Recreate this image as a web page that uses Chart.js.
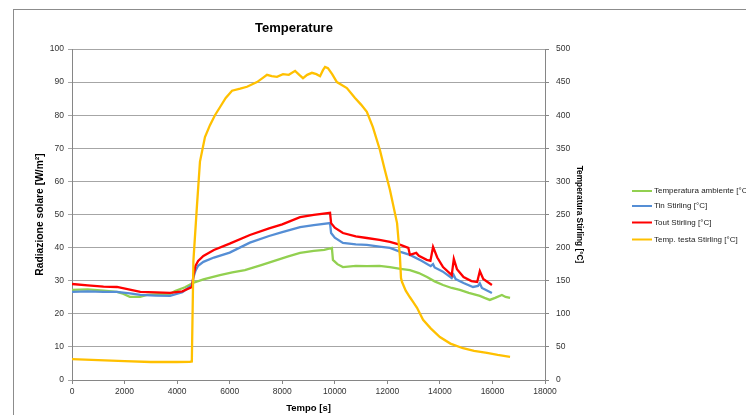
<!DOCTYPE html>
<html>
<head>
<meta charset="utf-8">
<script src="https://cdn.jsdelivr.net/npm/chart.js@4.4.1/dist/chart.umd.min.js"></script>
<style>
  body { margin: 0; background: #fff; }
  #wrap { position: relative; width: 746px; height: 415px; overflow: hidden; }
  #frame { position: absolute; left: 13px; top: 9px; width: 800px; height: 500px;
           border-left: 1px solid #8c8c8c; border-top: 1px solid #8c8c8c; }
  #tempChart { position: absolute; left: 0; top: 0; }
</style>
</head>
<body>
<div id="wrap">
  <div id="frame"></div>
  <canvas id="tempChart" width="746" height="415"></canvas>
</div>
<script>
const CHART_TITLE = "Temperature";
const X_LABEL = "Tempo [s]";
const Y_LABEL = "Radiazione solare [W/m²]";
const Y2_LABEL = "Temperatura Stirling [°C]";

const xTicks = [0, 2000, 4000, 6000, 8000, 10000, 12000, 14000, 16000, 18000];

const labelAmbiente = "Temperatura ambiente [°C]";
const tAmbiente = [0, 600, 1200, 1710, 1900, 2200, 2590, 2850, 3300, 3730, 3920, 4300, 4600, 5000, 5630, 6100, 6580, 7200, 7700, 8200, 8680, 9200, 9600, 9890, 9930, 10100, 10310, 10800, 11220, 11700, 12100, 12500, 12860, 13200, 13510, 13800, 14120, 14450, 14760, 15100, 15520, 15700, 15900, 16100, 16360, 16500, 16670];
const vAmbiente = [27.2, 27.4, 27, 26.6, 26.2, 25.1, 25.1, 25.7, 25.9, 26, 26.9, 28, 29.3, 30.4, 31.7, 32.5, 33.2, 34.7, 36, 37.3, 38.4, 39, 39.3, 39.9, 36.3, 35, 34.1, 34.5, 34.4, 34.5, 34.1, 33.6, 33.2, 32.3, 31.1, 29.8, 28.7, 27.8, 27.2, 26.3, 25.4, 24.8, 24.2, 24.8, 25.7, 25.1, 24.8];

const labelTin = "Tin Stirling [°C]";
const tTin = [0, 600, 1200, 1710, 2200, 2600, 3200, 3730, 4200, 4570, 4620, 4700, 4800, 5000, 5400, 6000, 6770, 7500, 8000, 8680, 9200, 9820, 9860, 10000, 10310, 10800, 11220, 11700, 12100, 12500, 12860, 13300, 13650, 13740, 13800, 14100, 14450, 14520, 14600, 14900, 15260, 15450, 15520, 15600, 15980];
const vTin = [26.6, 26.8, 26.6, 26.6, 26.2, 25.7, 25.5, 25.4, 26.5, 28.7, 31, 33, 34.5, 35.7, 37, 38.5, 41.5, 43.5, 44.7, 46.2, 46.8, 47.4, 44.4, 43, 41.4, 41, 40.8, 40.3, 39.9, 38.7, 37.8, 36, 34.4, 35, 34, 32.8, 30.8, 31.8, 30.5, 29.3, 28.1, 28.4, 29.2, 27.8, 26.3];

const labelTout = "Tout Stirling [°C]";
const tTout = [0, 600, 1200, 1710, 2200, 2600, 3200, 3730, 4200, 4570, 4620, 4700, 4800, 5000, 5400, 6000, 6770, 7500, 8000, 8680, 9200, 9820, 9860, 10000, 10310, 10800, 11220, 11700, 12100, 12500, 12800, 12860, 13100, 13200, 13500, 13640, 13740, 13900, 14120, 14450, 14530, 14650, 14900, 15200, 15420, 15520, 15650, 15980];
const vTout = [29, 28.6, 28.2, 28.1, 27.3, 26.6, 26.5, 26.3, 26.8, 28.1, 31.5, 34.5, 36, 37.5, 39.3, 41.2, 43.8, 45.8, 47, 49.2, 49.9, 50.5, 47.4, 46, 44.4, 43.4, 42.9, 42.3, 41.7, 40.8, 39.9, 37.8, 38.4, 37.5, 36.3, 36, 40.2, 37, 34.1, 31.7, 36.6, 33.5, 31.1, 29.9, 29.6, 32.9, 30.5, 28.7];

const labelTesta = "Temp. testa Stirling [°C]";
const tTesta = [0, 1000, 2000, 3000, 4000, 4480, 4560, 4620, 4750, 4870, 5060, 5250, 5440, 5630, 5850, 6090, 6400, 6660, 7040, 7250, 7420, 7600, 7800, 8030, 8250, 8490, 8650, 8790, 8950, 9130, 9300, 9440, 9550, 9630, 9740, 9900, 10080, 10460, 10770, 11000, 11220, 11450, 11720, 11900, 12100, 12370, 12480, 12520, 12560, 12700, 12860, 12980, 13130, 13360, 13650, 14000, 14400, 14880, 15300, 15790, 16200, 16670];
const vTesta = [31.5, 30, 28.5, 27.2, 27.2, 27.5, 28, 180, 260, 330, 367, 385, 400, 412, 426, 437, 440, 443, 450, 456, 461, 459, 458, 462, 461, 467, 461, 456, 461, 464, 462, 459, 468, 473, 471, 462, 450, 441, 426, 416, 405, 382, 347, 318, 287, 237, 186, 154, 148, 135, 125, 118, 109, 91, 78, 65, 55, 48, 44, 41, 38, 35];

const FONT = "'Liberation Sans', Arial, sans-serif";

function toPoints(ts, vs) {
  let pts = [];
  for (let i = 0; i < ts.length; i++) {
    pts.push({ x: ts[i], y: vs[i] });
  }
  return pts;
}

function makeSet(label, ts, vs, color, axis, order) {
  return {
    label: label,
    data: toPoints(ts, vs),
    borderColor: color,
    backgroundColor: color,
    borderWidth: 2.3,
    pointRadius: 0,
    tension: 0,
    yAxisID: axis,
    order: order,
  };
}

function plainTick(value) {
  return String(value);
}

// title + legend drawn by hand so they sit where the reference has them
const decorPlugin = {
  id: "decor",
  afterDraw(chart) {
    const ctx = chart.ctx;
    ctx.save();
    ctx.fillStyle = "#000";
    ctx.font = "bold 13px " + FONT;
    ctx.textAlign = "center";
    ctx.textBaseline = "middle";
    ctx.fillText(CHART_TITLE, 294, 28);

    ctx.font = "8px " + FONT;
    ctx.textAlign = "left";
    const rows = [191, 206, 222.5, 239.5];
    chart.data.datasets.forEach(function (ds, i) {
      ctx.strokeStyle = ds.borderColor;
      ctx.lineWidth = 2;
      ctx.beginPath();
      ctx.moveTo(632, rows[i]);
      ctx.lineTo(652, rows[i]);
      ctx.stroke();
      ctx.fillStyle = "#222";
      ctx.fillText(ds.label, 654, rows[i]);
    });
    ctx.restore();
  },
};

const tickFont = { family: FONT, size: 8.5 };

new Chart(document.getElementById("tempChart"), {
  type: "line",
  data: {
    datasets: [
      makeSet(labelAmbiente, tAmbiente, vAmbiente, "#92D050", "y", 3),
      makeSet(labelTin, tTin, vTin, "#558ED5", "y", 2),
      makeSet(labelTout, tTout, vTout, "#FF0000", "y", 1),
      makeSet(labelTesta, tTesta, vTesta, "#FFC000", "y2", 0),
    ],
  },
  options: {
    responsive: false,
    animation: false,
    layout: { padding: { left: 34, right: 161.6, top: 49, bottom: 0.6 } },
    plugins: {
      legend: { display: false },
      title: { display: false },
      tooltip: { enabled: false },
    },
    scales: {
      x: {
        type: "linear",
        min: 0,
        max: 18000,
        afterBuildTicks: function (scale) {
          scale.ticks = xTicks.map(function (v) { return { value: v }; });
        },
        afterFit: function (scale) { scale.height = 34.4; },
        ticks: { font: tickFont, color: "#333", padding: 3, maxRotation: 0, autoSkip: false, callback: plainTick },
        grid: { drawOnChartArea: false, drawTicks: true, tickLength: 4, color: "#868686" },
        border: { color: "#868686" },
        title: { display: true, text: X_LABEL, font: { family: FONT, size: 9.5, weight: "bold" }, color: "#000", padding: 0 },
      },
      y: {
        position: "left",
        min: 0,
        max: 100,
        ticks: { stepSize: 10, font: tickFont, color: "#333", padding: 4, callback: plainTick },
        afterFit: function (scale) { scale.width = 38; },
        grid: { color: "#a6a6a6", tickLength: 4, lineWidth: 1 },
        border: { color: "#868686" },
        title: { display: true, text: Y_LABEL, font: { family: FONT, size: 10.3, weight: "bold" }, color: "#000", padding: 0 },
      },
      y2: {
        position: "right",
        min: 0,
        max: 500,
        ticks: { stepSize: 50, font: tickFont, color: "#333", padding: 7, callback: plainTick },
        afterFit: function (scale) { scale.width = 39.4; },
        grid: { drawOnChartArea: false, tickLength: 4, color: "#868686" },
        border: { color: "#868686" },
        title: { display: true, text: Y2_LABEL, font: { family: FONT, size: 8.3, weight: "bold" }, color: "#000", padding: 0 },
      },
    },
  },
  plugins: [decorPlugin],
});
</script>
</body>
</html>
